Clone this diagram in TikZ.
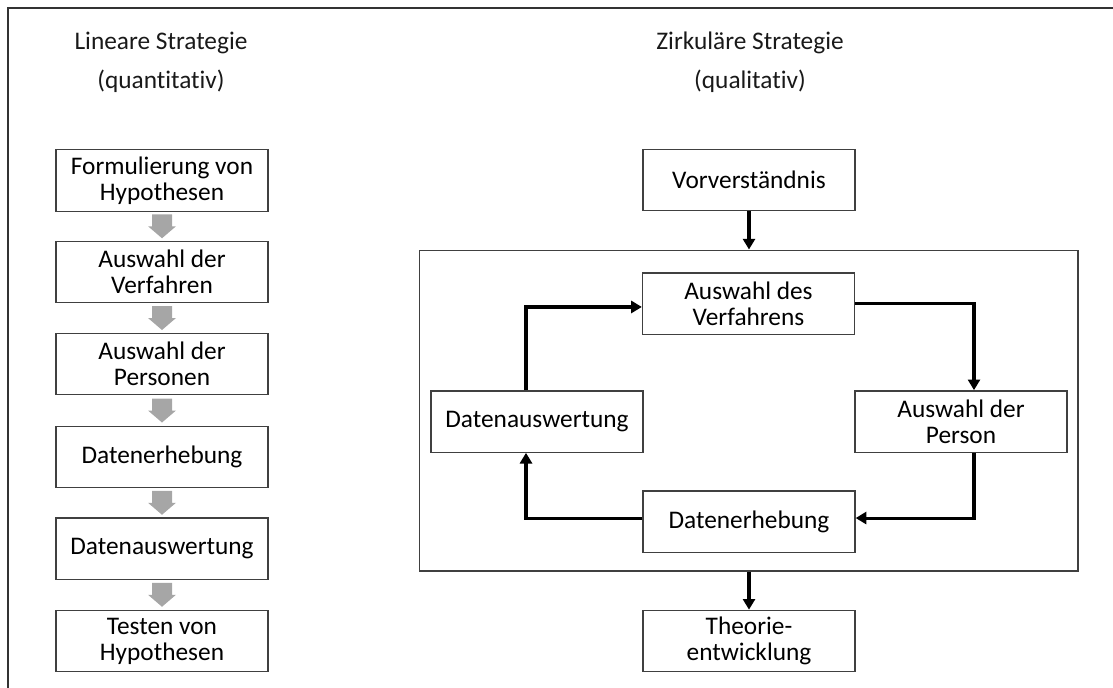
\documentclass[tikz,border=0pt]{standalone}
\usepackage{fontspec}
\setmainfont{Carlito}[Ligatures=CommonOff]
\usetikzlibrary{calc,positioning,arrows.meta}
\tikzset{
    box/.style={draw=black!75, line width=1pt, minimum width=159pt, minimum height=46pt, align=center, inner sep=1pt, font=\fontsize{19}{19.5}\selectfont},
    heading/.style={align=center, text=black!90, font=\fontsize{19}{29}\selectfont},
    greyarrow/.style={fill=black!35},
    loopedge/.style={draw, line width=2.3pt, -{Triangle[length=8pt, width=9pt]}},
    frame/.style={draw=black!80, line width=1.5pt}
}

\begin{document}
\begin{tikzpicture}[x=0.75pt, y=-0.75pt]
    \useasboundingbox (0,0) rectangle (1113,688);
    % frame
    \draw[frame] (8,688) -- (8,8) -- (1113,8);

    % headings
    \node[heading] (LH) at (161,62) {Lineare Strategie\\(quantitativ)};
    \node[heading] (ZH) at (750,62) {Zirkuläre Strategie\\(qualitativ)};

    % linear strategy
    \node[box] (F1) at (162,180.5) {Formulierung von\\Hypothesen};
    \node[box] (F2) at (162,272) {Auswahl der\\Verfahren};
    \node[box] (F3) at (162,364) {Auswahl der\\Personen};
    \node[box] (F4) at (162,457) {Datenerhebung};
    \node[box] (F5) at (162,548.5) {Datenauswertung};
    \node[box] (F6) at (162,641) {Testen von\\Hypothesen};

    \foreach \a/\b in {F1/F2,F2/F3,F3/F4,F4/F5,F5/F6}
        \fill[greyarrow] ($(\a.south)!0.5!(\b.north)$) ++(-10,-12) -- ++(20,0) -- ++(0,12) -- ++(4,0) -- ++(-14,12) -- ++(-14,-12) -- ++(4,0) -- cycle;

    % circular strategy
    \node[box] (V) at (749,180) {Vorverständnis};
    \node[draw=black!75, line width=1pt, minimum width=494pt, minimum height=240.5pt] (K) at (748.5,410.5) {};
    \node[box] (AV) at (748.5,303.5) {Auswahl des\\Verfahrens};
    \node[box] (AP) at (961,421.5) {Auswahl der\\Person};
    \node[box] (DA) at (537,421.5) {Datenauswertung};
    \node[box] (DE) at (749,521.5) {Datenerhebung};
    \node[box] (T) at (749,641) {Theorie-\\entwicklung};

    % edges
    \draw[loopedge] (V) -- (V |- K.north);
    \draw[loopedge] (K.south -| T) -- (T);
    \draw[loopedge] (AV.east) -| ([xshift=9.75pt]AP.north);
    \draw[loopedge] ([xshift=9.75pt]AP.south) |- ([yshift=2.6pt]DE.east);
    \draw[loopedge] ([yshift=2.6pt]DE.west) -| ([xshift=-8.25pt]DA.south);
    \draw[loopedge] ([xshift=-8.25pt]DA.north) |- ([yshift=-2.6pt]AV.west);
\end{tikzpicture}
\end{document}
